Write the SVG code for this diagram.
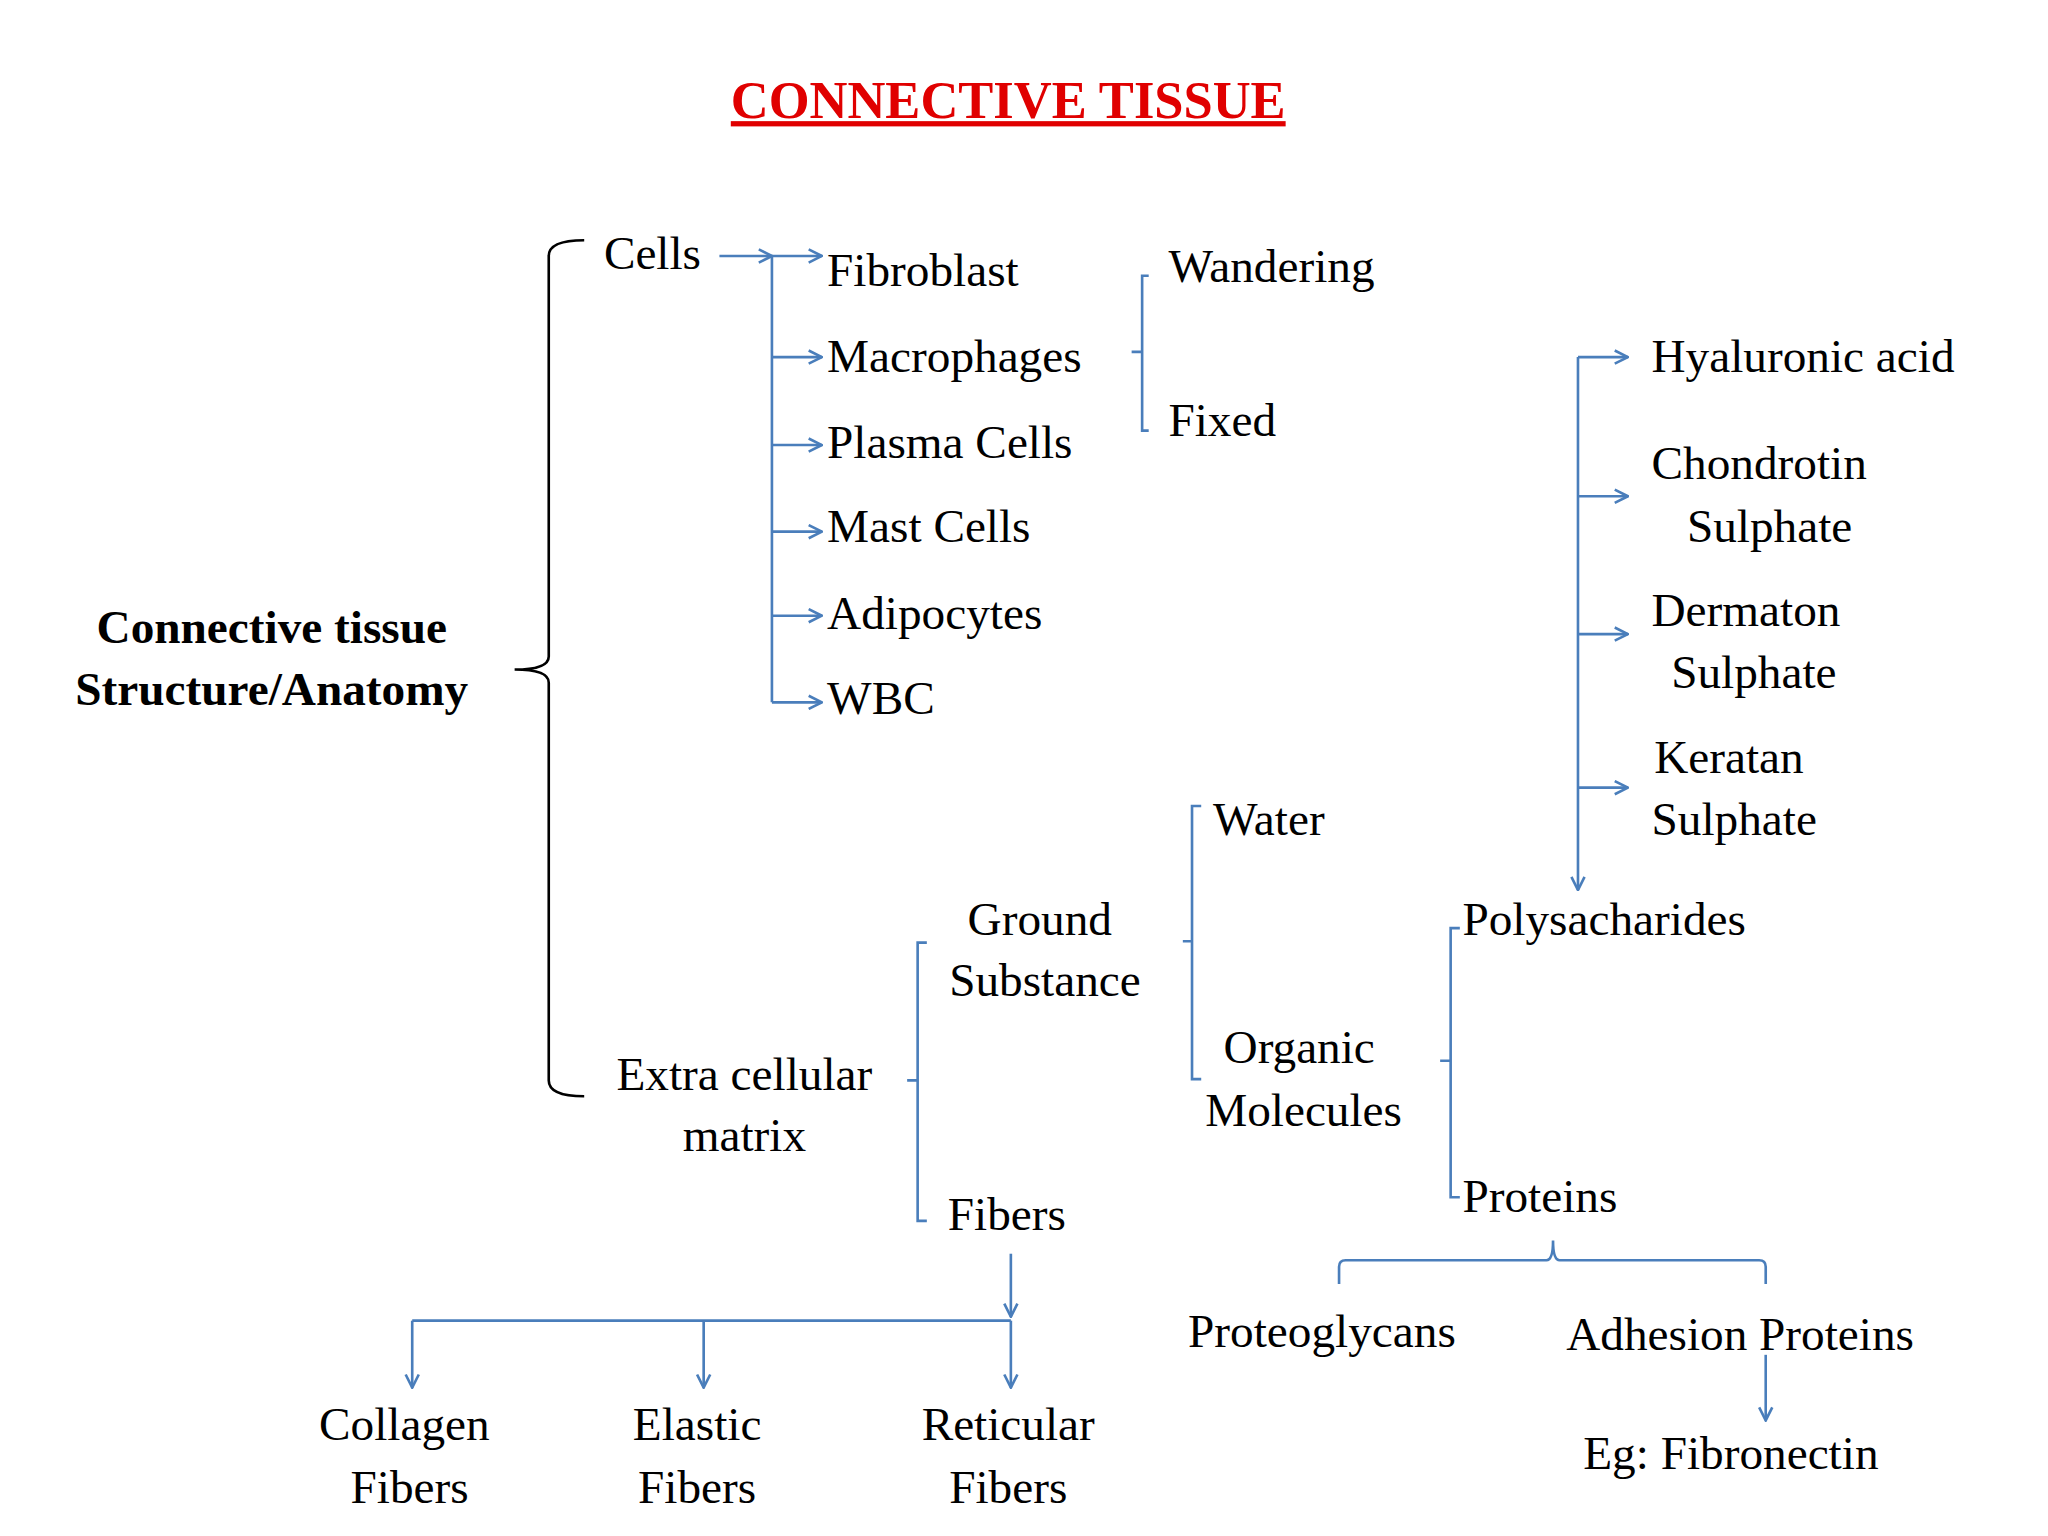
<svg xmlns="http://www.w3.org/2000/svg" width="2048" height="1536" viewBox="0 0 2048 1536">
<style>
text{font-family:"Liberation Serif",serif;font-size:36px;fill:#000}
.b{font-weight:bold}
.l{fill:none;stroke:#4a7ebb;stroke-width:2}
.a{fill:none;stroke:#4a7ebb;stroke-width:2;marker-end:url(#ah)}
</style>
<defs><marker id="ah" viewBox="0 0 12 12" refX="11" refY="6" markerWidth="12" markerHeight="12" markerUnits="userSpaceOnUse" orient="auto"><path d="M1,1 L11,6 L1,11" fill="none" stroke="#4a7ebb" stroke-width="2"/></marker></defs>
<rect width="2048" height="1536" fill="#fff"/>
<g transform="scale(1.3128)">
<g id="title"><text x="768" y="90" text-anchor="middle" class="b" style="fill:#e00000;font-size:40px;text-decoration:underline">CONNECTIVE TISSUE</text></g>
<g id="connectors">
<path d="M445,183 Q418,183 418,195 L418,500 Q418,510 392,510 Q418,510 418,520 L418,823 Q418,835 445,835" fill="none" stroke="#000" stroke-width="2"/>
<path class="a" d="M548,195 H588"/>
<path class="l" d="M588,195 V535"/>
<path class="a" d="M588,195 H626"/><path class="a" d="M588,272 H626"/><path class="a" d="M588,339 H626"/><path class="a" d="M588,405 H626"/><path class="a" d="M588,469 H626"/><path class="a" d="M588,535 H626"/>
<path class="l" d="M875,210 H870 V328 H875 M870,268 H862"/>
<path class="a" d="M1202,272 V678"/>
<path class="a" d="M1202,272 H1240"/><path class="a" d="M1202,378 H1240"/><path class="a" d="M1202,483 H1240"/><path class="a" d="M1202,600 H1240"/>
<path class="l" d="M1112,707 H1105 V912 H1112 M1105,808 H1097"/>
<path class="l" d="M915,614 H908 V822 H915 M908,717 H901"/>
<path class="l" d="M706,718 H699 V930 H706 M699,823 H691"/>
<path class="a" d="M770,955 V1003"/>
<path class="l" d="M314,1006 H770"/>
<path class="a" d="M314,1006 V1057"/><path class="a" d="M536,1006 V1057"/><path class="a" d="M770,1006 V1057"/>
<path class="l" d="M1020,978 V965 Q1020,960 1025,960 H1178 Q1183,960 1183,945 Q1183,960 1188,960 H1340 Q1345,960 1345,965 V978"/>
<path class="a" d="M1345,1032 V1082"/>
</g>
<g id="root"><text x="207" y="490" text-anchor="middle" class="b">Connective tissue</text><text x="207" y="537" text-anchor="middle" class="b">Structure/Anatomy</text></g>
<g id="cells"><text x="460" y="205">Cells</text></g>
<g id="fibroblast"><text x="630" y="218">Fibroblast</text></g>
<g id="macrophages"><text x="630" y="283">Macrophages</text></g>
<g id="plasma"><text x="630" y="349">Plasma Cells</text></g>
<g id="mast"><text x="630" y="413">Mast Cells</text></g>
<g id="adipocytes"><text x="630" y="479">Adipocytes</text></g>
<g id="wbc"><text x="630" y="544">WBC</text></g>
<g id="wandering"><text x="890" y="215">Wandering</text></g>
<g id="fixed"><text x="890" y="332">Fixed</text></g>
<g id="hyaluronic"><text x="1258" y="283">Hyaluronic acid</text></g>
<g id="chondrotin"><text x="1258" y="365">Chondrotin</text><text x="1285" y="413">Sulphate</text></g>
<g id="dermaton"><text x="1258" y="477">Dermaton</text><text x="1273" y="524">Sulphate</text></g>
<g id="keratan"><text x="1260" y="589">Keratan</text><text x="1258" y="636">Sulphate</text></g>
<g id="poly"><text x="1114" y="712">Polysacharides</text></g>
<g id="proteins"><text x="1114" y="923">Proteins</text></g>
<g id="water"><text x="924" y="636">Water</text></g>
<g id="organic"><text x="932" y="810">Organic</text><text x="918" y="858">Molecules</text></g>
<g id="ground"><text x="737" y="712">Ground</text><text x="723" y="759">Substance</text></g>
<g id="fibers"><text x="722" y="937">Fibers</text></g>
<g id="ecm"><text x="567" y="830" text-anchor="middle">Extra cellular</text><text x="567" y="877" text-anchor="middle">matrix</text></g>
<g id="collagen"><text x="308" y="1097" text-anchor="middle">Collagen</text><text x="312" y="1145" text-anchor="middle">Fibers</text></g>
<g id="elastic"><text x="531" y="1097" text-anchor="middle">Elastic</text><text x="531" y="1145" text-anchor="middle">Fibers</text></g>
<g id="reticular"><text x="768" y="1097" text-anchor="middle">Reticular</text><text x="768" y="1145" text-anchor="middle">Fibers</text></g>
<g id="proteoglycans"><text x="905" y="1026">Proteoglycans</text></g>
<g id="adhesion"><text x="1193" y="1028">Adhesion Proteins</text></g>
<g id="fibronectin"><text x="1206" y="1119">Eg: Fibronectin</text></g>
</g>
</svg>
